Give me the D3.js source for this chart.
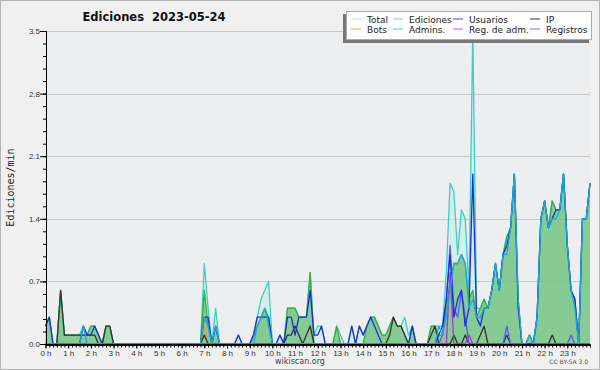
<!DOCTYPE html>
<html>
<head>
<meta charset="utf-8">
<script src="https://cdn.jsdelivr.net/npm/d3@7"></script>
<style>
  body { margin: 0; background: #fff; }
  svg { display: block; font-family: "DejaVu Sans", sans-serif; }
</style>
</head>
<body>
<script>
// Chart size
var width = 600,
    height = 370;
var margin = {left: 45.5, right: 10, top: 31, bottom: 26};

// Values every 10 minutes (one row per hour), edits per minute
var total = [
  0.2,0.3,0,0,0.6,0.1,   0.1,0.1,0.1,0.1,0.2,0.1,   0.2,0.2,0.1,0,0.2,0.2,
  0,0,0,0,0,0,           0,0,0,0,0,0,               0,0,0,0,0,0,
  0,0,0,0,0,0,           0.9,0.4,0,0.4,0,0,         0,0,0,0.1,0,0,
  0,0.1,0.3,0.5,0.6,0.7, 0,0,0.1,0,0.4,0.4,         0.4,0.3,0.3,0.3,0.8,0.1,
  0.2,0.2,0,0,0,0.2,     0.1,0,0,0.2,0,0.2,         0.1,0.2,0.3,0.3,0.2,0.1,
  0.1,0.2,0.3,0.2,0.2,0.3, 0.1,0.2,0,0,0,0,         0.2,0.2,0.2,0.2,0.8,1.8,
  1.7,1.0,1.5,1.4,0.6,3.5, 0.4,0.4,0.5,0.4,0.6,0.9, 0.6,1.0,1.2,1.3,1.9,0.5,
  0,0,0.1,0,0.3,1.4,     1.6,1.3,1.6,1.5,1.5,1.9,   1.1,0.6,0.5,0,1.4,1.4,
  1.8
];
var ediciones = [
  0.2,0.3,0,0,0.6,0.1,   0.1,0.1,0.1,0.1,0.1,0.1,   0.2,0.2,0.1,0,0.2,0.2,
  0,0,0,0,0,0,           0,0,0,0,0,0,               0,0,0,0,0,0,
  0,0,0,0,0,0,           0.6,0.2,0,0.2,0,0,         0,0,0,0,0,0,
  0,0.1,0.2,0.3,0.4,0.3, 0,0,0,0,0.4,0.4,           0.4,0.3,0.3,0.3,0.8,0,
  0,0,0,0,0,0.2,         0,0,0,0,0,0,               0,0.2,0.3,0.3,0.2,0.1,
  0.1,0.2,0.3,0.2,0.2,0.1, 0,0.2,0,0,0,0,           0.2,0.2,0.1,0.1,0.4,0.7,
  0.9,0.9,1.0,0.9,0.5,0.6, 0.3,0.4,0.5,0.4,0.6,0.9, 0.6,1.0,1.2,1.3,1.9,0.5,
  0,0,0.1,0,0.3,1.4,     1.6,1.3,1.6,1.5,1.5,1.9,   1.1,0.6,0.5,0,1.4,1.4,
  1.8
];
var usuarios = [
  0.2,0.3,0,0,0,0,       0,0,0,0,0.2,0.1,           0.1,0.2,0.1,0,0,0,
  0,0,0,0,0,0,           0,0,0,0,0,0,               0,0,0,0,0,0,
  0,0,0,0,0,0,           0.3,0.3,0,0.2,0,0,         0,0,0,0.1,0,0,
  0,0.1,0.3,0.3,0.3,0.3, 0,0,0.1,0,0.3,0.3,         0.1,0.3,0.3,0.3,0.6,0.1,
  0.1,0.2,0,0,0,0,       0,0,0,0.2,0,0.2,           0.1,0.2,0.3,0.2,0.1,0,
  0,0,0,0,0,0,           0,0.2,0,0,0,0,             0,0,0.1,0.2,0.5,1.0,
  0.3,0.5,0.6,0.2,0.4,1.9, 0.3,0.2,0.4,0.4,0.6,0.9, 0.6,1.0,1.1,1.3,1.9,0.4,
  0,0,0,0,0.3,1.4,       1.6,1.3,1.4,1.5,1.5,1.9,   1.1,0.6,0.5,0,1.4,1.4,
  1.8
];
var ip = [
  0,0,0,0,0.6,0.1,       0.1,0.1,0.1,0.1,0.1,0.1,   0.1,0.1,0,0,0.2,0.2,
  0,0,0,0,0,0,           0,0,0,0,0,0,               0,0,0,0,0,0,
  0,0,0,0,0,0,           0.1,0,0,0,0,0,             0,0,0,0,0,0,
  0,0,0,0,0,0,           0,0,0,0,0.1,0.1,           0.2,0.1,0,0.1,0.2,0,
  0,0,0,0,0,0,           0,0,0,0,0,0,               0,0,0,0,0,0,
  0,0.1,0.3,0.2,0.2,0.1, 0,0,0,0,0,0,               0.1,0.2,0,0,0,0,
  0.1,0,0,0.1,0,0,       0,0.1,0.2,0,0,0,           0,0,0.1,0,0,0,
  0,0,0,0,0,0,           0,0,0.1,0,0,0,             0,0,0,0,0,0,
  0
];
var bots = [
  0,0,0,0,0,0, 0,0,0,0,0,0, 0,0,0,0,0,0, 0,0,0,0,0,0, 0,0,0,0,0,0, 0,0,0,0,0,0,
  0,0,0,0,0,0, 0.2,0,0,0,0,0, 0,0,0,0,0,0, 0,0,0,0,0,0, 0,0,0,0,0,0, 0,0,0,0,0,0,
  0,0,0,0,0,0, 0,0,0,0,0,0, 0,0,0,0,0,0, 0,0,0,0,0,0, 0,0,0,0,0,0, 0,0,0,0,0,0,
  0,0,0,0,0,0, 0,0,0,0,0,0, 0,0,0,0,0,0, 0,0,0,0,0,0, 0,0,0,0,0,0, 0,0,0,0,0,0,
  0
];
var admins = [
  0,0,0,0,0,0,           0,0,0,0,0.2,0,             0,0,0,0,0,0,
  0,0,0,0,0,0,           0,0,0,0,0,0,               0,0,0,0,0,0,
  0,0,0,0,0,0,           0.3,0.2,0,0.2,0,0,         0,0,0,0,0,0,
  0,0,0.2,0.3,0.4,0.2,   0,0,0,0,0,0,               0,0,0,0,0,0,
  0,0,0,0,0,0,           0,0,0,0,0,0,               0,0,0,0,0,0,
  0,0,0,0,0,0,           0,0,0,0,0,0,               0,0,0.2,0.1,0.3,0.6,
  0.9,0.9,1.0,0.9,0.4,0.5, 0.3,0.3,0.4,0.4,0.6,0.9, 0.6,1.0,1.0,1.3,1.9,0.5,
  0,0,0.1,0,0.3,1.4,     1.6,1.3,1.4,1.4,1.5,1.9,   1.1,0.6,0.4,0,1.4,1.4,
  1.8
];
var regAdm = [
  0,0,0,0,0,0, 0,0,0,0,0,0, 0,0,0,0,0,0, 0,0,0,0,0,0, 0,0,0,0,0,0, 0,0,0,0,0,0,
  0,0,0,0,0,0, 0,0,0,0,0,0, 0,0,0,0,0,0, 0,0,0,0,0,0, 0,0,0,0,0,0, 0,0,0,0,0,0,
  0,0,0,0,0,0, 0,0,0,0,0,0, 0,0,0,0,0,0, 0,0,0,0,0,0, 0,0,0,0,0,0, 0,0,0,0,0,0.8,
  0,0,0,0,0.1,0, 0,0,0,0,0,0, 0,0,0,0,0,0, 0,0,0,0,0,0, 0,0,0,0,0,0, 0,0,0,0,0,0,
  0
];
var registros = [
  0,0,0,0,0,0, 0,0,0,0,0,0, 0,0,0,0,0,0, 0,0,0,0,0,0, 0,0,0,0,0,0, 0,0,0,0,0,0,
  0,0,0,0,0,0, 0,0,0,0,0,0, 0,0,0,0,0,0, 0,0,0,0,0,0, 0,0,0,0,0,0, 0,0,0,0,0,0,
  0,0,0,0,0,0, 0,0,0,0,0,0, 0,0,0,0,0,0, 0,0,0,0,0,0, 0,0,0,0,0,0, 0,0,0,0.1,0.5,1.1,
  0.4,0.3,0.6,0.3,0,0, 0,0,0,0,0,0, 0,0,0.2,0,0,0, 0,0,0,0,0,0, 0,0,0,0,0,0, 0,0.1,0,0,0,0,
  0
];

// Axis ticks
var yTicks = [0, 0.7, 1.4, 2.1, 2.8, 3.5];
var hours = d3.range(0, 24);
var legendRows = [
  [{name: "Total", color: "#a8e6de"}, {name: "Ediciones", color: "#90d890"},
   {name: "Usuarios", color: "#4048e0"}, {name: "IP", color: "#333333"}],
  [{name: "Bots", color: "#f5a640"}, {name: "Admins.", color: "#50c8e0"},
   {name: "Reg. de adm.", color: "#c050e0"}, {name: "Registros", color: "#7070f0"}]
];

var svg = d3.select("body").append("svg")
    .attr("width", width)
    .attr("height", height);

// Background and frame
svg.append("rect").attr("width", width).attr("height", height).attr("fill", "#f0f0f0");
svg.append("rect").attr("x", 0.5).attr("y", 0.5).attr("width", width - 1).attr("height", height - 1)
    .attr("fill", "none").attr("stroke", "#b4b4b4");

var x = d3.scaleLinear().domain([0, 1440]).range([margin.left, width - margin.right]);
var y = d3.scaleLinear().domain([0, 3.5]).range([height - margin.bottom, margin.top]);

svg.append("rect")
    .attr("x", x(0)).attr("y", y(3.5))
    .attr("width", x(1440) - x(0)).attr("height", y(0) - y(3.5))
    .attr("fill", "#edeef0");

// Grid lines
svg.append("g").selectAll("line")
    .data(yTicks.slice(1))
    .enter().append("line")
    .attr("x1", x(0)).attr("x2", x(1440))
    .attr("y1", d => Math.round(y(d)) + 0.5).attr("y2", d => Math.round(y(d)) + 0.5)
    .attr("stroke", "#c8c8c8");

function pts(arr) {
  return arr.map((v, i) => [i * 10, v]);
}

var area = d3.area().x(d => x(d[0])).y0(y(0)).y1(d => y(d[1]));
var line = d3.line().x(d => x(d[0])).y(d => y(d[1]));

// Filled series
svg.append("path").datum(pts(total)).attr("d", area)
    .attr("fill", "#c4eee6").attr("fill-opacity", 0.6);
svg.append("path").datum(pts(ediciones)).attr("d", area)
    .attr("fill", "#5cb866").attr("fill-opacity", 0.65);

// Line series
var lines = [
  {data: total, color: "#3ecfc2"},
  {data: ediciones, color: "#3aad3a"},
  {data: bots, color: "#f39a2a"},
  {data: ip, color: "#333333"},
  {data: registros, color: "#5a5af5"},
  {data: regAdm, color: "#b42ee0"},
  {data: usuarios, color: "#1c2ee0"},
  {data: admins, color: "#1fa6da"}
];
lines.forEach(function(s) {
  svg.append("path").datum(pts(s.data)).attr("d", line)
      .attr("fill", "none").attr("stroke", s.color)
      .attr("stroke-width", 1.3).attr("stroke-linejoin", "round");
});

// Y axis
var yAxis = svg.append("g").attr("transform", "translate(" + (x(0) + 0.5) + ",0)");
yAxis.call(d3.axisLeft(y).tickValues(d3.range(0, 3.51, 0.14)).tickSize(3).tickFormat(""));
yAxis.append("g").call(d3.axisLeft(y).tickValues(yTicks).tickSize(6).tickFormat(d3.format(".1f")));
yAxis.selectAll(".domain").attr("stroke", "#000");
yAxis.selectAll("line").attr("stroke", "#000");
yAxis.selectAll("text").attr("font-family", null).attr("font-size", 8).attr("fill", "#333").attr("x", -6);

// X axis
var xAxis = svg.append("g").attr("transform", "translate(0," + (y(0) + 0.5) + ")");
xAxis.call(d3.axisBottom(x).tickValues(d3.range(0, 1441, 10)).tickSize(3).tickFormat("").tickSizeOuter(0));
xAxis.append("g").call(d3.axisBottom(x).tickValues(hours.map(h => h * 60)).tickSize(4)
    .tickFormat(d => (d / 60) + " h").tickSizeOuter(0));
xAxis.selectAll(".domain").attr("stroke", "#000").attr("stroke-width", 1.5);
xAxis.selectAll("line").attr("stroke", "#000");
xAxis.selectAll("text").attr("font-family", null).attr("font-size", 8).attr("fill", "#333").attr("dy", "0.6em");

// Titles
svg.append("text").attr("x", 154).attr("y", 21).attr("text-anchor", "middle")
    .attr("font-size", 11.5).attr("font-weight", "bold").attr("fill", "#111")
    .style("white-space", "pre")
    .text("Ediciones  2023-05-24");
svg.append("text").attr("transform", "translate(13.5," + ((y(0) + y(3.5)) / 2) + ") rotate(-90)")
    .attr("text-anchor", "middle").attr("font-size", 10).attr("fill", "#222")
    .attr("font-family", "DejaVu Sans Mono")
    .text("Ediciones/min");
svg.append("text").attr("x", 300).attr("y", 364).attr("text-anchor", "middle")
    .attr("font-size", 8).attr("fill", "#444").text("wikiscan.org");
svg.append("text").attr("x", 588).attr("y", 364).attr("text-anchor", "end")
    .attr("font-size", 6).attr("fill", "#555").text("CC BY-SA 3.0");

// Legend
var legend = svg.append("g");
legend.append("rect").attr("x", 343).attr("y", 14).attr("width", 246).attr("height", 29).attr("fill", "#777");
legend.append("rect").attr("x", 346.5).attr("y", 11.5).attr("width", 245).attr("height", 28)
    .attr("fill", "#fff").attr("stroke", "#aaa");
var colX = [351, 393, 453, 530];
legendRows.forEach(function(row, r) {
  row.forEach(function(item, c) {
    var ly = 19 + r * 10;
    legend.append("line").attr("x1", colX[c]).attr("x2", colX[c] + 10)
        .attr("y1", ly).attr("y2", ly).attr("stroke", item.color);
    legend.append("text").attr("x", colX[c] + 16).attr("y", ly + 3.5)
        .attr("font-size", 9).attr("fill", "#222").text(item.name);
  });
});
</script>
</body>
</html>
